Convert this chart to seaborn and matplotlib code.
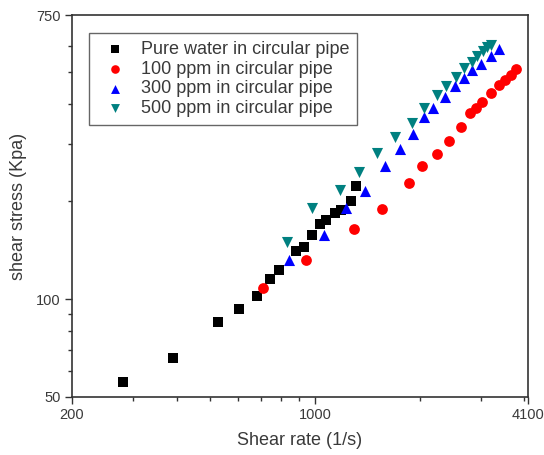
import matplotlib
matplotlib.use("Agg")
import matplotlib.pyplot as plt
import matplotlib.ticker as mticker
import pandas as pd
import seaborn as sns

# Shear rate (1/s) and shear stress (Kpa)
water_rate = [280, 390, 527, 604, 681, 744, 788, 879, 930, 979, 1034, 1078, 1142, 1188, 1272, 1315]
water_stress = [55.5, 65.8, 85.1, 93.5, 102.3, 115.2, 123, 140.8, 145.1, 157.3, 170.8, 175, 183.9, 188.2, 201.1, 222.7]

ppm100_rate = [710, 942, 1293, 1562, 1868, 2028, 2240, 2425, 2626, 2793, 2906, 3024, 3202, 3391, 3529, 3657, 3787]
ppm100_stress = [108.1, 132.1, 164.9, 190, 227.5, 257.2, 280.1, 306.4, 339.8, 373.6, 387.1, 405.6, 430.5, 456.6, 473.2, 490.3, 509.8]

ppm300_rate = [840, 1062, 1226, 1396, 1585, 1751, 1918, 2059, 2190, 2366, 2534, 2684, 2829, 2994, 3209, 3384]
ppm300_stress = [132.1, 157.7, 190.5, 215.4, 257.2, 289.5, 322.6, 363.2, 388, 419.4, 455, 479.9, 508, 531.8, 560.9, 589.4]

ppm500_rate = [833, 979, 1180, 1341, 1505, 1703, 1898, 2052, 2244, 2382, 2545, 2684, 2820, 2925, 3034, 3125, 3209]
ppm500_stress = [150.3, 190.5, 216.9, 247, 282.7, 315.2, 348.1, 388, 425.4, 455, 484.3, 514, 539.4, 560.9, 581.2, 597.8, 605]

labels = ["Pure water in circular pipe", "100 ppm in circular pipe",
          "300 ppm in circular pipe", "500 ppm in circular pipe"]

x_major = [200, 1000, 4100]
x_minor = [300, 400, 500, 600, 700, 800, 900, 2000, 3000, 4000]
y_major = [50, 100, 750]
y_minor = [60, 70, 80, 90, 200, 300, 400, 500, 600]

text_color = "#3a3a3a"

sns.set_theme(style="white")
plt.rcParams['font.family'] = ['Liberation Sans', 'DejaVu Sans']
plt.rcParams['text.color'] = text_color
plt.rcParams['axes.labelcolor'] = text_color
plt.rcParams['xtick.color'] = text_color
plt.rcParams['ytick.color'] = text_color

fig = plt.figure(figsize=(5.44, 4.55), dpi=100)
ax = fig.add_axes([0.1324, 0.1275, 0.8382, 0.8395])

series = [
    (water_rate, water_stress, "s", "black", 50),
    (ppm100_rate, ppm100_stress, "o", "#ff0000", 60),
    (ppm300_rate, ppm300_stress, "^", "#0000ff", 64),
    (ppm500_rate, ppm500_stress, "v", "#008080", 64),
]
for (x, y, marker, color, size), lab in zip(series, labels):
    df = pd.DataFrame({"rate": x, "stress": y})
    sns.scatterplot(data=df, x="rate", y="stress", marker=marker, color=color,
                    s=size, linewidth=0, label=lab, ax=ax)

ax.set_xscale("log")
ax.set_yscale("log")
ax.set_xlim(200, 4100)
ax.set_ylim(50, 750)

ax.xaxis.set_major_locator(mticker.FixedLocator(x_major))
ax.xaxis.set_minor_locator(mticker.FixedLocator(x_minor))
ax.yaxis.set_major_locator(mticker.FixedLocator(y_major))
ax.yaxis.set_minor_locator(mticker.FixedLocator(y_minor))
ax.xaxis.set_major_formatter(mticker.FixedFormatter([str(v) for v in x_major]))
ax.yaxis.set_major_formatter(mticker.FixedFormatter([str(v) for v in y_major]))
ax.xaxis.set_minor_formatter(mticker.NullFormatter())
ax.yaxis.set_minor_formatter(mticker.NullFormatter())

ax.tick_params(which="both", direction="out", bottom=True, left=True,
               top=False, right=False, color="#333333", width=1.0)
ax.tick_params(which="major", length=5, labelsize=10.5, pad=3)
ax.tick_params(which="minor", length=3)

for sp in ax.spines.values():
    sp.set_color("#333333")
    sp.set_linewidth(1.2)

ax.set_xlabel("Shear rate (1/s)", fontsize=13, labelpad=7)
ax.set_ylabel("shear stress (Kpa)", fontsize=13, labelpad=7)

leg = ax.legend(loc="upper left", bbox_to_anchor=(0.038, 0.952), borderaxespad=0,
                fontsize=13, frameon=True, fancybox=False, framealpha=1,
                edgecolor="#666666", labelspacing=0.15, handletextpad=0.45,
                borderpad=0.42, markerscale=0.8)
leg.get_frame().set_linewidth(1.0)

fig.savefig("out.png", dpi=100)
